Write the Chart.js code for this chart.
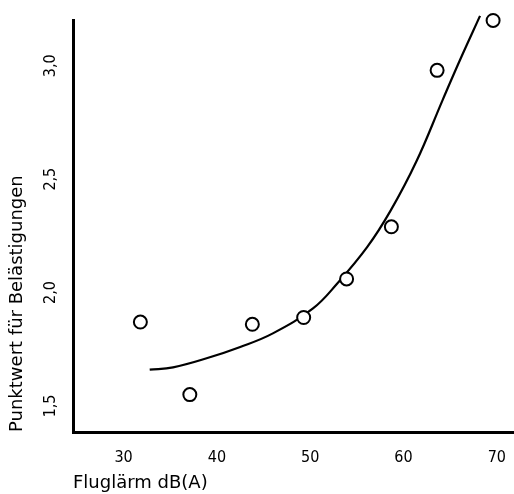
<!DOCTYPE html>
<html>
<head>
<meta charset="utf-8">
<title>Fluglärm und Belästigung</title>
<script src="https://cdn.jsdelivr.net/npm/chart.js@4/dist/chart.umd.min.js"></script>
<style>
    html, body { margin: 0; padding: 0; background: #fff; }
    canvas { display: block; }
</style>
</head>
<body>
<canvas id="laermChart" width="514" height="494"></canvas>
<script>
// Messpunkte (offene Kreise)
const pointX = [31.8, 37.1, 43.8, 49.3, 53.9, 58.7, 63.6, 69.6];
const pointY = [1.87, 1.55, 1.86, 1.89, 2.06, 2.29, 2.98, 3.20];

// Ausgleichskurve
const curveX = [32.8, 35.3, 38.9, 42.5, 46.0, 50.3, 52.9, 56.1, 58.6, 61.4, 64.2, 66.1, 68.2];
const curveY = [1.66, 1.67, 1.71, 1.76, 1.82, 1.93, 2.04, 2.20, 2.36, 2.58, 2.85, 3.03, 3.22];

// Achsen
const xTicks = [30, 40, 50, 60, 70];
const xTickLabels = ['30', '40', '50', '60', '70'];
const yTicks = [1.5, 2.0, 2.5, 3.0];
const yTickLabels = ['1,5', '2,0', '2,5', '3,0'];
const xTitle = 'Fluglärm dB(A)';
const yTitle = 'Punktwert für Belästigungen';

document.addEventListener('DOMContentLoaded', function() {
    const tickFont = { family: "'DejaVu Sans Condensed', 'DejaVu Sans', sans-serif", size: 16 };
    const titleFont = { family: "'DejaVu Sans', sans-serif", size: 18 };

    const ctx = document.getElementById('laermChart').getContext('2d');
    new Chart(ctx, {
        type: 'scatter',
        data: {
            datasets: [{
                label: 'Messwerte',
                data: pointX.map((x, i) => ({ x: x, y: pointY[i] })),
                pointStyle: 'circle',
                pointRadius: 6.5,
                pointBorderWidth: 2,
                pointBorderColor: '#000',
                pointBackgroundColor: '#fff',
                showLine: false,
                clip: false,
                order: 0
            }, {
                label: 'Kurve',
                data: curveX.map((x, i) => ({ x: x, y: curveY[i] })),
                showLine: true,
                borderColor: '#000',
                borderWidth: 2.2,
                pointRadius: 0,
                tension: 0.4,
                clip: false,
                order: 1
            }]
        },
        options: {
            responsive: false,
            animation: false,
            events: [],
            layout: {
                autoPadding: false,
                padding: { top: 20, right: 0, left: 0, bottom: 0 }
            },
            plugins: {
                legend: { display: false },
                tooltip: { enabled: false }
            },
            scales: {
                x: {
                    type: 'linear',
                    min: 24.58,
                    max: 71.84,
                    grid: { display: false },
                    border: { display: true, color: '#000', width: 3 },
                    afterBuildTicks: function(scale) {
                        scale.ticks = xTicks.map(v => ({ value: v }));
                    },
                    afterFit: function(scale) {
                        scale.height = 62;
                        scale.paddingRight = 0;
                    },
                    ticks: {
                        color: '#000',
                        font: tickFont,
                        padding: 8,
                        maxRotation: 0,
                        autoSkip: false,
                        callback: function(value, index) {
                            return xTickLabels[index];
                        }
                    },
                    title: {
                        display: true,
                        text: xTitle,
                        align: 'start',
                        color: '#000',
                        font: titleFont,
                        padding: { top: 7, bottom: 0 }
                    }
                },
                y: {
                    type: 'linear',
                    min: 1.385,
                    max: 3.202,
                    grid: { display: false },
                    border: { display: true, color: '#000', width: 3 },
                    afterBuildTicks: function(scale) {
                        scale.ticks = yTicks.map(v => ({ value: v }));
                    },
                    afterFit: function(scale) {
                        scale.width = 73;
                    },
                    ticks: {
                        color: '#000',
                        font: tickFont,
                        padding: 3,
                        minRotation: 90,
                        maxRotation: 90,
                        crossAlign: 'center',
                        autoSkip: false,
                        callback: function(value, index) {
                            return yTickLabels[index];
                        }
                    },
                    title: {
                        display: true,
                        text: yTitle,
                        align: 'start',
                        color: '#000',
                        font: titleFont,
                        padding: { top: 7, bottom: 0 }
                    }
                }
            }
        }
    });
});
</script>
</body>
</html>
